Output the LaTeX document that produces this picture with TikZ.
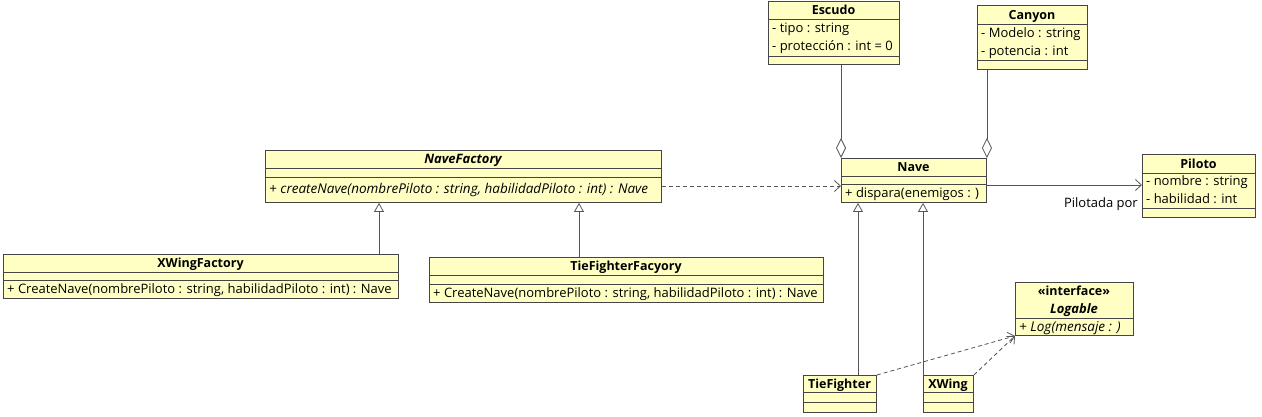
\documentclass[tikz,border=0pt]{standalone}
\usepackage{fontspec}
\setmainfont{Open Sans}
\usetikzlibrary{arrows.meta}
\definecolor{classfill}{HTML}{FFFFC4}
\definecolor{classline}{HTML}{454545}
\definecolor{linkline}{HTML}{555555}
\begin{document}
\begin{tikzpicture}[x=1pt,y=-1pt,
    classbox/.style={draw=classline,fill=classfill,line width=0.9pt,anchor=north west,inner sep=0pt},
    classname/.style={font=\bfseries\fontsize{12.5}{14}\selectfont,inner sep=0pt,anchor=base},
    member/.style={font=\fontsize{13}{15}\selectfont,inner sep=0pt,anchor=base west},
    abstractmember/.style={member,font=\itshape\fontsize{13.5}{15}\selectfont},
    splitline/.style={draw=classline,line width=0.9pt},
    link/.style={draw=linkline,line width=0.8pt},
    aggregation/.style={link,-{Diamond[length=20pt,width=10pt,fill=white]}},
    generalization/.style={link,-{Triangle[length=9pt,width=10pt,fill=white]}},
    dependency/.style={link,dash pattern=on 4pt off 3pt,-{Straight Barb[length=6pt,width=11pt]}},
    association/.style={link,-{Straight Barb[length=6pt,width=11pt]}}]
    \useasboundingbox (0,0) rectangle (1262,416);
    % Escudo
    \node[classbox,minimum width=131pt,minimum height=63pt] (escudo) at (768,1) {};
    \draw[splitline] (768,19) -- (899,19);
    \draw[splitline] (768,56) -- (899,56);
    \node[classname] (escudo-name) at (833.5,14.5) {Escudo};
    \node[member] (escudo-tipo) at (772,32.5) {- tipo : string};
    \node[member] (escudo-proteccion) at (772,50.5) {- protección : int = 0};
    % Canyon
    \node[classbox,minimum width=110pt,minimum height=64pt] (canyon) at (977,5) {};
    \draw[splitline] (977,24) -- (1087,24);
    \draw[splitline] (977,60) -- (1087,60);
    \node[classname] (canyon-name) at (1032,19) {Canyon};
    \node[member] (canyon-modelo) at (981,37.5) {- Modelo : string};
    \node[member] (canyon-potencia) at (981,55.5) {- potencia : int};
    % Nave
    \node[classbox,minimum width=145pt,minimum height=44pt] (nave) at (841,158) {};
    \draw[splitline] (841,176) -- (986,176);
    \draw[splitline] (841,184) -- (986,184);
    \node[classname] (nave-name) at (913.5,171.5) {Nave};
    \node[member] (nave-dispara) at (845,197.5) {+ dispara(enemigos : )};
    % Piloto
    \node[classbox,minimum width=113pt,minimum height=63pt] (piloto) at (1142,154) {};
    \draw[splitline] (1142,173) -- (1255,173);
    \draw[splitline] (1142,208) -- (1255,208);
    \node[classname] (piloto-name) at (1198.5,168) {Piloto};
    \node[member] (piloto-nombre) at (1146,185.5) {- nombre : string};
    \node[member] (piloto-habilidad) at (1146,203.5) {- habilidad : int};
    % NaveFactory
    \node[classbox,minimum width=396pt,minimum height=52pt] (navefactory) at (265,150) {};
    \draw[splitline] (265,168) -- (661,168);
    \draw[splitline] (265,177) -- (661,177);
    \node[classname,font=\bfseries\itshape\fontsize{13}{15}\selectfont] (navefactory-name) at (463,163.5) {NaveFactory};
    \node[abstractmember] (navefactory-create) at (269,193.5) {+ createNave(nombrePiloto : string, habilidadPiloto : int) : Nave};
    % XWingFactory
    \node[classbox,minimum width=395pt,minimum height=44pt] (xwingfactory) at (3,254) {};
    \draw[splitline] (3,272) -- (398,272);
    \draw[splitline] (3,280) -- (398,280);
    \node[classname] (xwingfactory-name) at (200.5,267.5) {XWingFactory};
    \node[member] (xwingfactory-create) at (7,293.5) {+ CreateNave(nombrePiloto : string, habilidadPiloto : int) : Nave};
    % TieFighterFacyory
    \node[classbox,minimum width=394pt,minimum height=45pt] (tiefighterfactory) at (429,257) {};
    \draw[splitline] (429,275) -- (823,275);
    \draw[splitline] (429,284) -- (823,284);
    \node[classname] (tiefighterfactory-name) at (626,270.5) {TieFighterFacyory};
    \node[member] (tiefighterfactory-create) at (433,297.5) {+ CreateNave(nombrePiloto : string, habilidadPiloto : int) : Nave};
    % Logable
    \node[classbox,minimum width=118pt,minimum height=53pt] (logable) at (1015,282) {};
    \draw[splitline] (1015,318) -- (1133,318);
    \node[classname] (logable-stereo) at (1074,295.5) {«interface»};
    \node[classname,font=\bfseries\itshape\fontsize{13}{15}\selectfont] (logable-name) at (1074,313.5) {Logable};
    \node[abstractmember] (logable-log) at (1019,331.5) {+ Log(mensaje : )};
    % TieFighter
    \node[classbox,minimum width=73pt,minimum height=37pt] (tiefighter) at (803,375) {};
    \draw[splitline] (803,392) -- (876,392);
    \draw[splitline] (803,402) -- (876,402);
    \node[classname] (tiefighter-name) at (839.5,388) {TieFighter};
    % XWing
    \node[classbox,minimum width=50pt,minimum height=37pt] (xwing) at (923,375) {};
    \draw[splitline] (923,392) -- (973,392);
    \draw[splitline] (923,402) -- (973,402);
    \node[classname] (xwing-name) at (948,388) {XWing};
    % relations
    \coordinate (factoryline) at (0,186);
    \coordinate (pilotline) at (0,185);
    \draw[aggregation] (escudo.south -| nave.north west) -- (nave.north west);
    \draw[aggregation] (canyon.south -| nave.north east) -- (nave.north east);
    \draw[dependency] (navefactory.east |- factoryline) -- (nave.west |- factoryline);
    \draw[association] (nave.east |- pilotline) -- (piloto.west |- pilotline);
    \node[member,anchor=base east] (pilotada) at (1138,207.5) {Pilotada por};
    \draw[generalization] (xwingfactory.north -| 379,0) -- (navefactory.south -| 379,0);
    \draw[generalization] (tiefighterfactory.north -| 579,0) -- (navefactory.south -| 579,0);
    \draw[generalization] (tiefighter.north -| 858,0) -- (nave.south -| 858,0);
    \draw[generalization] (xwing.north west) -- (nave.south -| xwing.north west);
    \draw[dependency] (tiefighter.north east) -- (logable.south west);
    \draw[dependency] (xwing.north east) -- (logable.south west);
\end{tikzpicture}
\end{document}
